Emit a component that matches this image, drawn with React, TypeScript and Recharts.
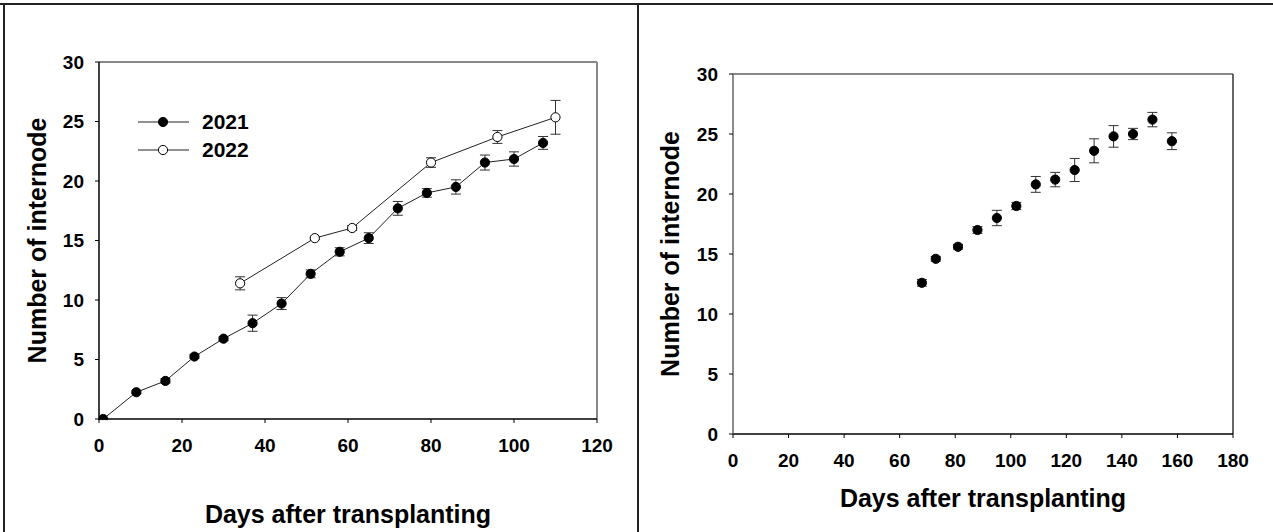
import React from 'react';
import {
  ComposedChart,
  Scatter,
  XAxis,
  YAxis,
  ErrorBar,
  ReferenceLine,
} from 'recharts';

// ---- Data: left panel (2021 / 2022) ----
const days2021 = [1, 9, 16, 23, 30, 37, 44, 51, 58, 65, 72, 79, 86, 93, 100, 107];
const internode2021 = [0, 2.25, 3.2, 5.25, 6.75, 8.05, 9.7, 12.2, 14.05, 15.2, 17.7, 19.0, 19.5, 21.55, 21.85, 23.2];
const err2021 = [0.05, 0.12, 0.18, 0.15, 0.15, 0.68, 0.5, 0.33, 0.34, 0.45, 0.58, 0.36, 0.6, 0.63, 0.6, 0.54];

const days2022 = [34, 52, 61, 80, 96, 110];
const internode2022 = [11.4, 15.2, 16.05, 21.55, 23.7, 25.35];
const err2022 = [0.55, 0.1, 0.2, 0.4, 0.54, 1.42];

// ---- Data: right panel ----
const daysB = [68, 73, 81, 88, 95, 102, 109, 116, 123, 130, 137, 144, 151, 158];
const internodeB = [12.6, 14.6, 15.6, 17.0, 18.0, 19.0, 20.8, 21.2, 22.0, 23.6, 24.8, 25.0, 26.2, 24.4];
const errB = [0.28, 0.2, 0.2, 0.28, 0.64, 0.3, 0.66, 0.6, 0.96, 1.0, 0.9, 0.47, 0.6, 0.7];

// ---- Tick labels ----
const xTicksLeft = [0, 20, 40, 60, 80, 100, 120];
const xTicksRight = [0, 20, 40, 60, 80, 100, 120, 140, 160, 180];
const yTicks = [0, 5, 10, 15, 20, 25, 30];

const seriesNames = ['2021', '2022'];
const xTitle = 'Days after transplanting';
const yTitle = 'Number of internode';

const build = (xs: number[], ys: number[], es: number[]) =>
  xs.map((x, i) => ({ x, y: ys[i], e: es[i] }));

const data2021 = build(days2021, internode2021, err2021);
const data2022 = build(days2022, internode2022, err2022);
const dataB = build(daysB, internodeB, errB);

const FONT = '"Liberation Sans", Arial, Helvetica, sans-serif';
const TICK_FS = 19;

const XTick = (props: any) => {
  const { x, y, payload } = props;
  return (
    <text
      x={x}
      y={y}
      dy="0.71em"
      textAnchor="middle"
      style={{ fontFamily: FONT, fontWeight: 700, fontSize: TICK_FS, fill: '#000' }}
    >
      {payload.value}
    </text>
  );
};

const YTick = (props: any) => {
  const { x, y, payload } = props;
  return (
    <text
      x={x}
      y={y}
      dy="0.36em"
      textAnchor="end"
      style={{ fontFamily: FONT, fontWeight: 700, fontSize: TICK_FS, fill: '#000' }}
    >
      {payload.value}
    </text>
  );
};

const FilledDot = (props: any) => (
  <circle cx={props.cx} cy={props.cy} r={4.6} fill="#000" stroke="#000" strokeWidth={1} />
);
const OpenDot = (props: any) => (
  <circle cx={props.cx} cy={props.cy} r={4.6} fill="#fff" stroke="#000" strokeWidth={1} />
);

const XTitle = (dy: number) => (props: any) => {
  const vb = props.viewBox;
  return (
    <text
      x={vb.x + vb.width / 2}
      y={vb.y + dy}
      textAnchor="middle"
      style={{ fontFamily: FONT, fontWeight: 700, fontSize: 25, fill: '#000' }}
    >
      {xTitle}
    </text>
  );
};

const YTitle = (dx: number) => (props: any) => {
  const vb = props.viewBox;
  const x = vb.x + vb.width - dx;
  const y = vb.y + vb.height / 2;
  return (
    <text
      x={x}
      y={y}
      textAnchor="middle"
      transform={`rotate(-90 ${x} ${y})`}
      style={{ fontFamily: FONT, fontWeight: 700, fontSize: 25, fill: '#000' }}
    >
      {yTitle}
    </text>
  );
};

const LegendBox = () => (
  <div
    style={{
      position: 'absolute',
      left: 138,
      top: 108,
      fontFamily: FONT,
      fontWeight: 700,
      fontSize: 21,
      color: '#000',
    }}
  >
    {seriesNames.map((name, i) => (
      <div key={name} style={{ display: 'flex', alignItems: 'center', height: 28 }}>
        <svg width={52} height={14} style={{ display: 'block' }}>
          <line x1={0} y1={7} x2={51} y2={7} stroke="#222" strokeWidth={1} />
          <circle cx={25} cy={7} r={4.6} fill={i === 0 ? '#000' : '#fff'} stroke="#000" strokeWidth={1} />
        </svg>
        <span style={{ marginLeft: 12, lineHeight: '28px' }}>{name}</span>
      </div>
    ))}
  </div>
);

const frameLine = (style: React.CSSProperties) => (
  <div style={{ position: 'absolute', background: '#222', ...style }} />
);

export default function App() {
  return (
    <div style={{ position: 'absolute', left: 0, top: 0, width: 1273, height: 532, background: '#fff', overflow: 'hidden' }}>
      {frameLine({ left: 0, top: 3, width: 1273, height: 2 })}
      {frameLine({ left: 3, top: 3, width: 2, height: 529 })}
      {frameLine({ left: 637, top: 3, width: 2, height: 529 })}

      {/* Left panel */}
      <div style={{ position: 'absolute', left: 0, top: 0 }}>
        <ComposedChart width={638} height={532} margin={{ top: 62, right: 41, bottom: 13, left: 0 }}>
          <XAxis
            type="number"
            dataKey="x"
            domain={[0, 120]}
            ticks={xTicksLeft}
            interval={0}
            tickSize={4}
            tickMargin={16}
            tick={<XTick />}
            axisLine={{ stroke: '#000', strokeWidth: 1.5 }}
            tickLine={{ stroke: '#000' }}
            height={100}
            allowDataOverflow
            label={{ content: XTitle(104) }}
          />
          <YAxis
            type="number"
            dataKey="y"
            domain={[0, 30]}
            ticks={yTicks}
            interval={0}
            tickSize={4}
            tickMargin={11}
            tick={<YTick />}
            axisLine={{ stroke: '#000', strokeWidth: 1.5 }}
            tickLine={{ stroke: '#000' }}
            width={99}
            allowDataOverflow
            label={{ content: YTitle(53.5) }}
          />
          <ReferenceLine y={30} stroke="#888" strokeWidth={2} />
          <ReferenceLine x={120} stroke="#888" strokeWidth={2} />
          <Scatter
            name="2021"
            data={data2021}
            dataKey="y"
            line={{ stroke: '#222', strokeWidth: 1 }}
            shape={FilledDot}
            isAnimationActive={false}
          >
            <ErrorBar dataKey="e" direction="y" width={5} stroke="#333" strokeWidth={1} isAnimationActive={false} />
          </Scatter>
          <Scatter
            name="2022"
            data={data2022}
            dataKey="y"
            line={{ stroke: '#222', strokeWidth: 1 }}
            shape={OpenDot}
            isAnimationActive={false}
          >
            <ErrorBar dataKey="e" direction="y" width={5} stroke="#333" strokeWidth={1} isAnimationActive={false} />
          </Scatter>
        </ComposedChart>
        <LegendBox />
      </div>

      {/* Right panel */}
      <div style={{ position: 'absolute', left: 638, top: 0 }}>
        <ComposedChart width={635} height={532} margin={{ top: 74, right: 40, bottom: 8, left: 0 }}>
          <XAxis
            type="number"
            dataKey="x"
            domain={[0, 180]}
            ticks={xTicksRight}
            interval={0}
            tickSize={4}
            tickMargin={16}
            tick={<XTick />}
            axisLine={{ stroke: '#000', strokeWidth: 1.5 }}
            tickLine={{ stroke: '#000' }}
            height={90}
            allowDataOverflow
            label={{ content: XTitle(72.5) }}
          />
          <YAxis
            type="number"
            dataKey="y"
            domain={[0, 30]}
            ticks={yTicks}
            interval={0}
            tickSize={4}
            tickMargin={11}
            tick={<YTick />}
            axisLine={{ stroke: '#666', strokeWidth: 1.5 }}
            tickLine={{ stroke: '#000' }}
            width={95}
            allowDataOverflow
            label={{ content: YTitle(54.5) }}
          />
          <ReferenceLine y={30} stroke="#888" strokeWidth={2} />
          <ReferenceLine x={180} stroke="#333" strokeWidth={1.5} />
          <Scatter
            name="internode"
            data={dataB}
            dataKey="y"
            shape={FilledDot}
            isAnimationActive={false}
          >
            <ErrorBar dataKey="e" direction="y" width={5} stroke="#333" strokeWidth={1} isAnimationActive={false} />
          </Scatter>
        </ComposedChart>
      </div>
    </div>
  );
}
